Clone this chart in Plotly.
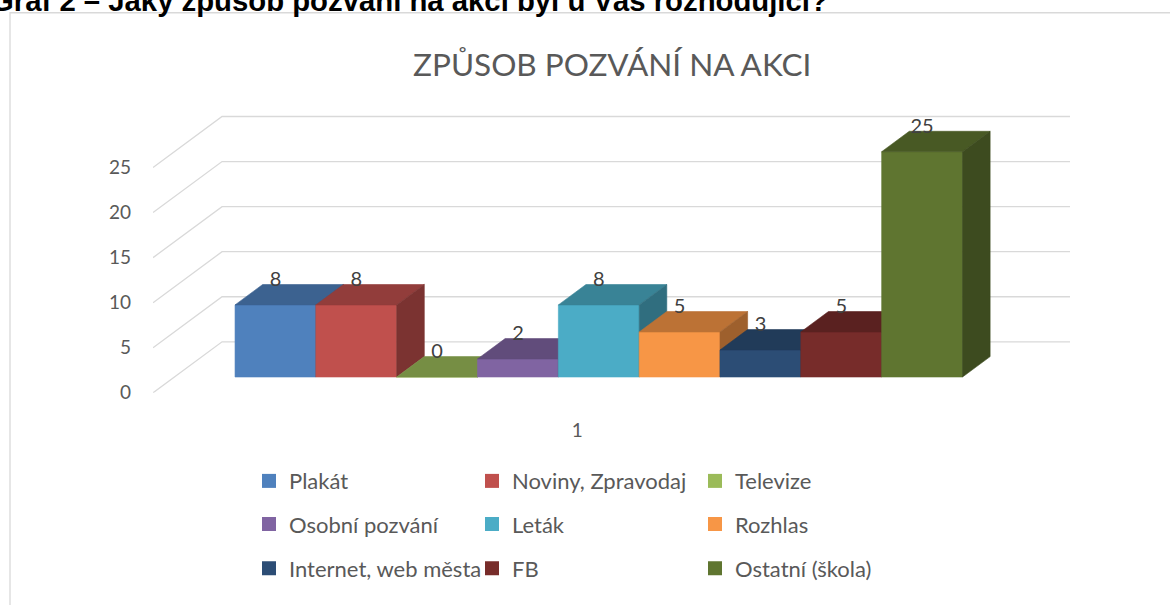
import plotly.graph_objects as go

# ---------------- data ----------------
categories = ["Plakát", "Noviny, Zpravodaj", "Televize", "Osobní pozvání", "Leták",
              "Rozhlas", "Internet, web města", "FB", "Ostatní (škola)"]
values = [8, 8, 0, 2, 8, 5, 3, 5, 25]
colors = ["#4F81BD", "#C0504D", "#9BBB59", "#8064A2", "#4BACC6",
          "#F79646", "#2C4D75", "#772C2A", "#5F7530"]
y_ticks = [0, 5, 10, 15, 20, 25]
category_label = "1"
chart_title = "ZPŮSOB POZVÁNÍ NA AKCI"
doc_caption = "Graf 2 – Jaký způsob pozvání na akci byl u Vás rozhodující?"

# ---------------- 3D projection (oblique) ----------------
DX = 0.854      # x-units shift for full depth
DY = 5.66       # value-units shift for full depth
D_FLOOR = -0.31  # floor front (relative to bar front plane)
D_BAR = 0.40     # bar depth
D_WALL = 0.69    # back wall
FLOOR_L, FLOOR_R = -1.25, 9.25


def proj(x, v, d):
    return x + d * DX, v + d * DY


def shade(hexcol, f):
    h = hexcol.lstrip("#")
    r, g, b = (int(h[i:i + 2], 16) for i in (0, 2, 4))
    return "rgb(%d,%d,%d)" % (round(r * f), round(g * f), round(b * f))


fig = go.Figure()

# gridlines on floor edge + back wall
gx, gy = [], []
for v in y_ticks:
    for (x, d) in [(FLOOR_L, D_FLOOR), (FLOOR_L, D_WALL), (FLOOR_R, D_WALL)]:
        px, py = proj(x, v, d)
        gx.append(px)
        gy.append(py)
    gx.append(None)
    gy.append(None)
fig.add_trace(go.Scatter(x=gx, y=gy, mode="lines", line=dict(color="#D9D9D9", width=1.3),
                         hoverinfo="skip", showlegend=False))


def poly(points, color):
    xs = [p[0] for p in points] + [points[0][0]]
    ys = [p[1] for p in points] + [points[0][1]]
    return go.Scatter(x=xs, y=ys, mode="lines", fill="toself", fillcolor=color,
                      line=dict(color=color, width=0.6), hoverinfo="skip", showlegend=False)


for i, (v, c) in enumerate(zip(values, colors)):
    x0, x1 = i - 0.5, i + 0.5
    front = [proj(x0, 0, 0), proj(x1, 0, 0), proj(x1, v, 0), proj(x0, v, 0)]
    top = [proj(x0, v, 0), proj(x1, v, 0), proj(x1, v, D_BAR), proj(x0, v, D_BAR)]
    side = [proj(x1, 0, 0), proj(x1, 0, D_BAR), proj(x1, v, D_BAR), proj(x1, v, 0)]
    fig.add_trace(poly(front, c))
    fig.add_trace(poly(top, shade(c, 0.76)))
    fig.add_trace(poly(side, shade(c, 0.64)))

# data labels
lx, ly = [], []
for i, v in enumerate(values):
    px, py = proj(i, v, D_BAR)
    lx.append(i)
    ly.append(py + 0.4)
fig.add_trace(go.Scatter(x=lx, y=ly, mode="text", text=[str(v) for v in values],
                         textposition="middle center",
                         textfont=dict(family="Lato", size=20, color="#404040"),
                         hoverinfo="skip", showlegend=False))

# legend entries (3 rows x 3 columns)
legend_names = ["legend", "legend2", "legend3"]
for i, (name, c) in enumerate(zip(categories, colors)):
    fig.add_trace(go.Scatter(x=[None], y=[None], mode="markers", name=name,
                             marker=dict(symbol="square", size=14, color=c),
                             legend=legend_names[i // 3], showlegend=True))

W, H = 1170, 605
row_y = [490, 534, 579]
legend_common = dict(orientation="h", entrywidth=178, entrywidthmode="pixels",
                     itemwidth=30, xanchor="left", yanchor="middle",
                     x=249 / W, font=dict(family="Lato", size=22, color="#595959"),
                     bgcolor="rgba(0,0,0,0)", tracegroupgap=0)

cx = (len(values) - 1) / 2.0
tick_x = proj(cx, 0, D_FLOOR)[0]

fig.update_layout(
    width=W, height=H,
    margin=dict(l=0, r=0, t=0, b=0),
    paper_bgcolor="white", plot_bgcolor="rgba(0,0,0,0)",
    showlegend=True,
    legend=dict(legend_common, y=(H - row_y[0]) / H),
    legend2=dict(legend_common, y=(H - row_y[1]) / H),
    legend3=dict(legend_common, y=(H - row_y[2]) / H),
    xaxis=dict(range=[-1.515, 9.83], domain=[153 / W, 1070 / W],
               showgrid=False, zeroline=False, showline=False,
               tickvals=[tick_x], ticktext=[category_label], ticks="",
               ticklabelstandoff=24,
               tickfont=dict(family="Lato", size=19, color="#595959"),
               fixedrange=True),
    yaxis=dict(range=[-1.755, 29.5], domain=[(H - 400.1) / H, (H - 113.2) / H],
               showgrid=False, zeroline=False, showline=False,
               tickvals=[v + D_FLOOR * DY for v in y_ticks],
               ticktext=[str(v) for v in y_ticks], ticks="",
               ticklabelstandoff=21,
               tickfont=dict(family="Lato", size=19, color="#595959"),
               fixedrange=True),
    shapes=[dict(type="rect", xref="paper", yref="paper",
                 x0=10 / W, x1=1.02, y0=-0.05, y1=(H - 13) / H,
                 line=dict(color="#D9D9D9", width=1.3), fillcolor="rgba(0,0,0,0)",
                 layer="below")],
    annotations=[
        dict(text=chart_title, x=612 / W, y=(H - 65) / H, xref="paper", yref="paper",
             xanchor="center", yanchor="middle", showarrow=False,
             font=dict(family="Lato", size=31.5, color="#595959")),
        dict(text="<b>" + doc_caption + "</b>", x=-11 / W, y=(H - 1) / H,
             xref="paper", yref="paper", xanchor="left", yanchor="middle",
             showarrow=False, font=dict(family="Liberation Sans", size=29.3, color="black")),
    ],
)

fig.write_html("out.html", config={"displayModeBar": False},
               post_script="document.body.style.margin='0';document.body.style.overflow='hidden';")
